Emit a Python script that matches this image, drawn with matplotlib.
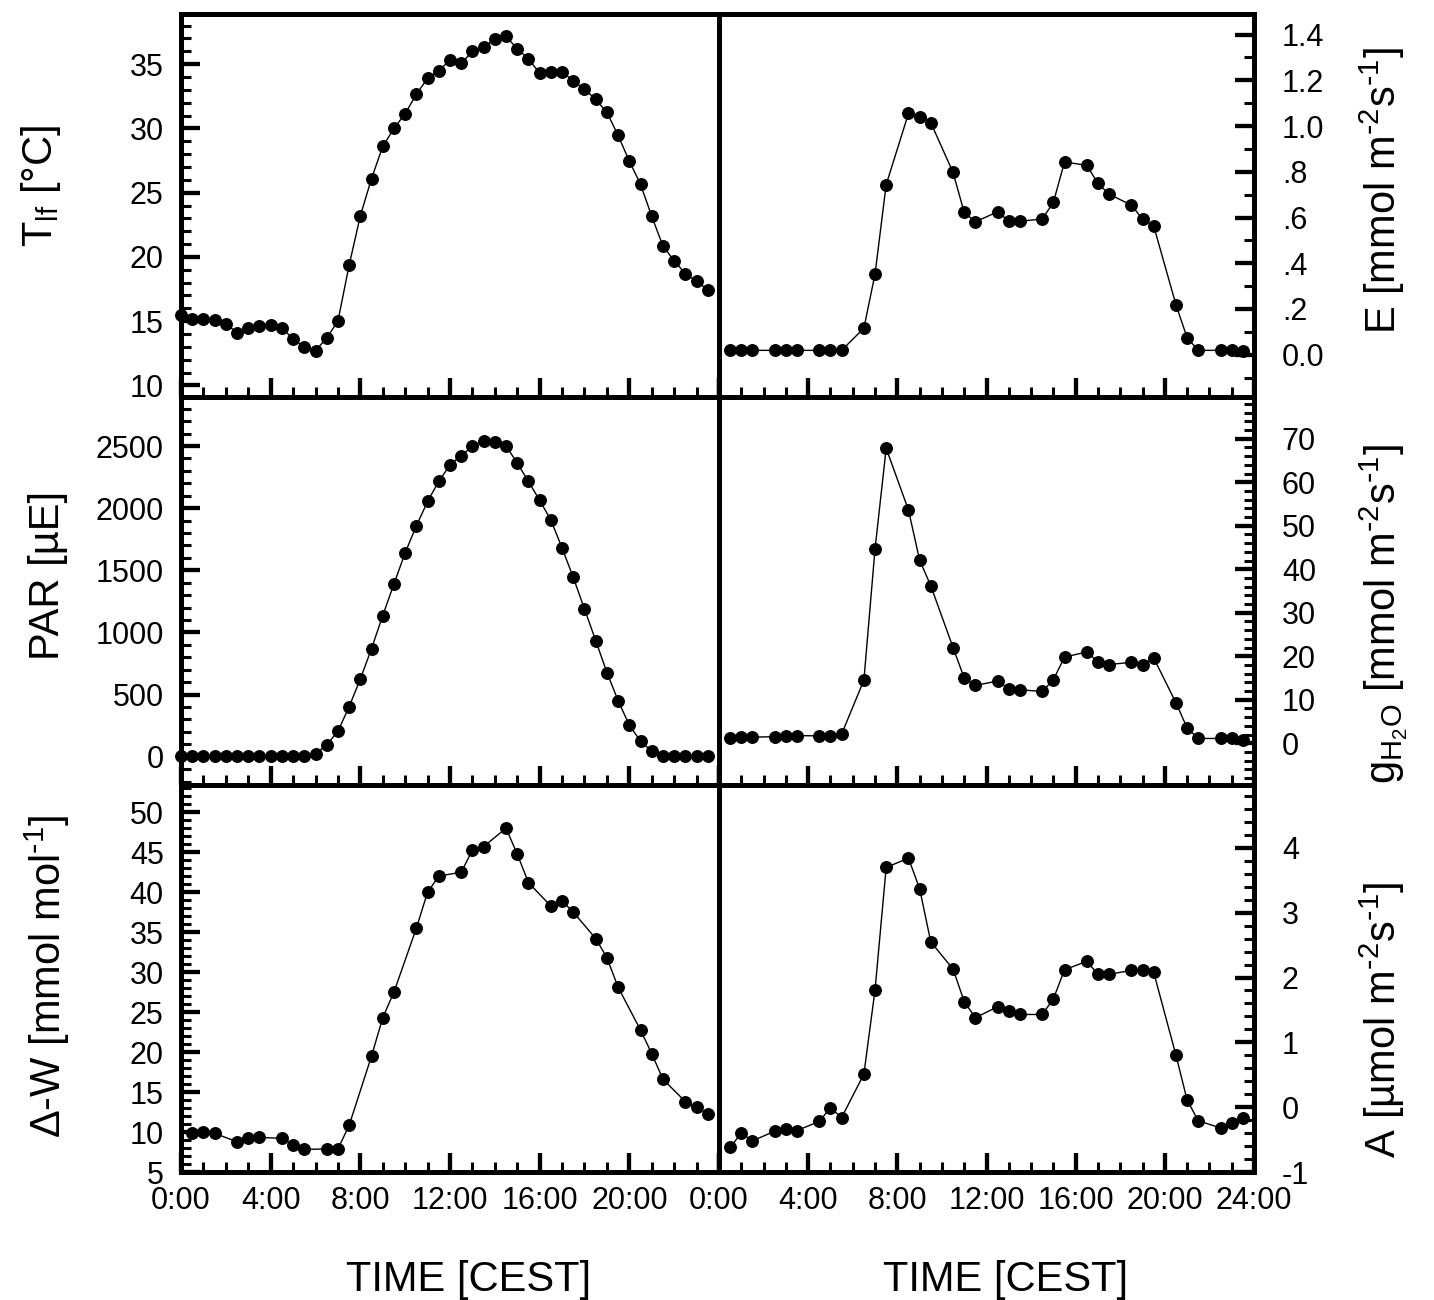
import matplotlib
matplotlib.use("Agg")
import matplotlib.pyplot as plt
from matplotlib.ticker import MultipleLocator, FixedLocator, FuncFormatter

plt.rcParams["font.family"] = ["Liberation Sans", "DejaVu Sans"]
plt.rcParams["mathtext.default"] = "regular"
plt.rcParams["axes.unicode_minus"] = False

# measurement times [h], half-hourly (left column T and PAR)
t_all = [0.0, 0.5, 1.0, 1.5, 2.0, 2.5, 3.0, 3.5, 4.0, 4.5, 5.0, 5.5,
         6.0, 6.5, 7.0, 7.5, 8.0, 8.5, 9.0, 9.5, 10.0, 10.5, 11.0, 11.5,
         12.0, 12.5, 13.0, 13.5, 14.0, 14.5, 15.0, 15.5, 16.0, 16.5, 17.0, 17.5,
         18.0, 18.5, 19.0, 19.5, 20.0, 20.5, 21.0, 21.5, 22.0, 22.5, 23.0, 23.5]
# gas exchange times [h] (three readings per two hours)
t_gas = [0.5, 1.0, 1.5, 2.5, 3.0, 3.5, 4.5, 5.0, 5.5, 6.5, 7.0, 7.5,
         8.5, 9.0, 9.5, 10.5, 11.0, 11.5, 12.5, 13.0, 13.5, 14.5, 15.0, 15.5,
         16.5, 17.0, 17.5, 18.5, 19.0, 19.5, 20.5, 21.0, 21.5, 22.5, 23.0, 23.5]

leaf_temp = [15.5, 15.2, 15.2, 15.1, 14.8, 14.1, 14.5, 14.65, 14.7, 14.5, 13.6, 13.0,
             12.7, 13.7, 15.0, 19.35, 23.2, 26.1, 28.6, 30.0, 31.15, 32.65, 33.9, 34.5,
             35.3, 35.05, 36.0, 36.3, 36.95, 37.15, 36.2, 35.4, 34.3, 34.4, 34.4, 33.7,
             33.05, 32.25, 31.25, 29.45, 27.45, 25.65, 23.15, 20.85, 19.7, 18.7, 18.1, 17.45]

par = [5, 5, 5, 5, 5, 5, 5, 5, 5, 5, 5, 5,
       24, 95, 204, 402, 625, 870, 1136, 1391, 1641, 1859, 2054, 2217,
       2348, 2424, 2497, 2543, 2535, 2500, 2364, 2215, 2063, 1905, 1679, 1443,
       1188, 935, 677, 451, 253, 125, 43, 5, 5, 5, 5, 5]

delta_w = [9.92, 9.96, 9.83, 8.79, 9.21, 9.33, 9.21, 8.38, 7.83, 7.88, 7.88, 10.83,
           19.5, 24.3, 27.5, 35.5, 40.0, 42.0, 42.5, 45.25, 45.7, 48.0, 44.75, 41.2,
           38.25, 38.9, 37.5, 34.2, 31.8, 28.1, 22.75, 19.8, 16.6, 13.8, 13.1, 12.3]

transp = [0.019, 0.019, 0.019, 0.019, 0.019, 0.019, 0.019, 0.019, 0.019, 0.116, 0.353, 0.744,
          1.055, 1.041, 1.015, 0.797, 0.622, 0.581, 0.625, 0.584, 0.584, 0.593, 0.666, 0.843,
          0.828, 0.749, 0.702, 0.654, 0.593, 0.563, 0.218, 0.074, 0.019, 0.019, 0.019, 0.016]

g_h2o = [1.3, 1.4, 1.4, 1.5, 1.7, 1.75, 1.7, 1.75, 2.1, 14.5, 44.7, 67.8,
         53.6, 42.1, 36.2, 22.0, 15.0, 13.3, 14.3, 12.5, 12.3, 11.9, 14.6, 19.8,
         21.0, 18.7, 18.1, 18.6, 18.1, 19.6, 9.3, 3.5, 1.1, 1.1, 1.1, 0.8]

assim = [-0.62, -0.40, -0.52, -0.37, -0.33, -0.36, -0.22, -0.01, -0.16, 0.51, 1.81, 3.70,
         3.84, 3.37, 2.55, 2.13, 1.63, 1.38, 1.55, 1.49, 1.43, 1.43, 1.67, 2.12,
         2.25, 2.05, 2.05, 2.11, 2.11, 2.08, 0.80, 0.11, -0.21, -0.32, -0.25, -0.17]

hour_ticks = [0, 4, 8, 12, 16, 20, 24]
hour_labels_left = ["0:00", "4:00", "8:00", "12:00", "16:00", "20:00", "0:00"]
hour_labels_right = ["", "4:00", "8:00", "12:00", "16:00", "20:00", "24:00"]

# unit strings with plain hyphens in the exponents, as in the original
PER_M2_S = r"m$^{\text{-}2}$s$^{\text{-}1}$"


def style_axis(ax, side, ylim, major, minor, label, label_xy, bottom_row=False):
    ax.set_xlim(0, 24)
    ax.set_ylim(*ylim)
    for sp in ax.spines.values():
        sp.set_linewidth(3.6)
    ax.xaxis.set_major_locator(FixedLocator(hour_ticks))
    ax.xaxis.set_minor_locator(MultipleLocator(1))
    ax.yaxis.set_major_locator(MultipleLocator(major))
    ax.yaxis.set_minor_locator(MultipleLocator(minor))
    ax.tick_params(which="both", direction="in", top=False, labelsize=22)
    ax.tick_params(which="major", length=14, width=3.1)
    ax.tick_params(which="minor", length=7.5, width=2.2)
    ax.tick_params(axis="x", pad=10)
    if side == "left":
        ax.tick_params(axis="y", which="both", left=True, right=False, labelleft=True, pad=12.5)
    else:
        ax.yaxis.tick_right()
        ax.yaxis.set_label_position("right")
        ax.tick_params(axis="y", which="both", left=False, right=True,
                       labelleft=False, labelright=True, pad=20)
    if bottom_row:
        ax.set_xticklabels(hour_labels_left if side == "left" else hour_labels_right)
        ax.set_xlabel("TIME [CEST]", fontsize=30)
        ax.xaxis.set_label_coords(0.535, -0.228)
    else:
        ax.set_xticklabels([])
    ax.set_ylabel(label, fontsize=30)
    ax.yaxis.set_label_coords(*label_xy)


def draw(ax, t, y):
    ax.plot(t, y, "-o", color="black", lw=1.0, ms=8.3, clip_on=False, zorder=3)


fig = plt.figure(figsize=(14.34, 13), dpi=100)

W, H = 1434.0, 1300.0
col_x = [(181, 719), (719, 1254)]
row_y = [(14, 397), (397, 785), (785, 1172)]


def make_ax(c, r):
    x0, x1 = col_x[c]
    y0, y1 = row_y[r]
    return fig.add_axes([x0 / W, 1 - y1 / H, (x1 - x0) / W, (y1 - y0) / H])


# top row
ax = make_ax(0, 0)
draw(ax, t_all, leaf_temp)
style_axis(ax, "left", (9.1, 38.9), 5, 1, r"T$_{lf}$ [°C]", (-0.219, 0.551))

ax = make_ax(1, 0)
draw(ax, t_gas, transp)
style_axis(ax, "right", (-0.185, 1.49), 0.2, 0.1, "E [mmol " + PER_M2_S + "]", (1.194, 0.54))
ax.yaxis.set_major_formatter(FuncFormatter(
    lambda v, p: "0.0" if abs(v) < 1e-9 else (f"{v:.1f}" if v >= 0.99 else f"{v:.1f}"[1:])))

# middle row
ax = make_ax(0, 1)
draw(ax, t_all, par)
style_axis(ax, "left", (-228, 2895), 500, 100, "PAR [µE]", (-0.21, 0.539))

ax = make_ax(1, 1)
draw(ax, t_gas, g_h2o)
style_axis(ax, "right", (-9.6, 79.6), 10, 2, r"g$_{H_2O}$ [mmol " + PER_M2_S + "]", (1.194, 0.44))

# bottom row
ax = make_ax(0, 2)
draw(ax, t_gas, delta_w)
style_axis(ax, "left", (5, 53.4), 5, 1, r"Δ-W [mmol mol$^{\text{-}1}$]", (-0.203, 0.506), bottom_row=True)

ax = make_ax(1, 2)
draw(ax, t_gas, assim)
style_axis(ax, "right", (-1, 4.97), 1, 0.2, "A [µmol " + PER_M2_S + "]", (1.194, 0.393), bottom_row=True)

fig.savefig("out.png", dpi=100)
